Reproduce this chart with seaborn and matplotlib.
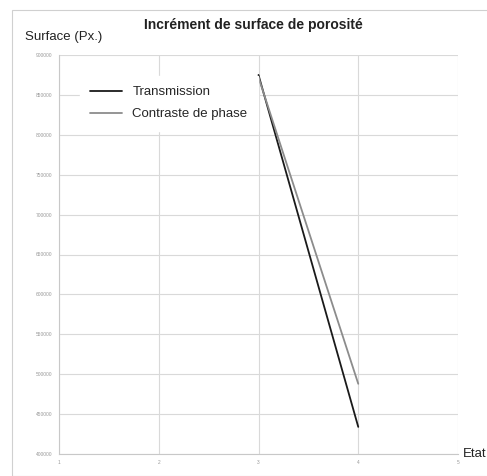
import pandas as pd
import matplotlib.pyplot as plt
import seaborn as sns
from matplotlib.patches import Rectangle

etat = [3, 4]
transmission = [875000, 434000]
contraste = [872000, 488000]
series_names = ["Transmission", "Contraste de phase"]
series_colors = ["#1a1a1a", "#8c8c8c"]

df = pd.DataFrame({"Etat": etat * 2,
                   "Surface": transmission + contraste,
                   "Serie": [series_names[0]] * 2 + [series_names[1]] * 2})

sns.set_style("white")
plt.rcParams['font.family'] = ['Liberation Sans', 'DejaVu Sans']

fig = plt.figure(figsize=(4.87, 4.76), dpi=100)
ax = fig.add_axes([59 / 487, 1 - 454 / 476, (458 - 59) / 487, (454 - 55) / 476])

sns.lineplot(data=df, x="Etat", y="Surface", hue="Serie", palette=series_colors,
             linewidth=1.3, ax=ax, legend=False)

ax.set_xlim(1, 5)
ax.set_ylim(400000, 900000)
ax.set_xticks([1, 2, 3, 4, 5])
ax.set_yticks(range(400000, 900001, 50000))
ax.set_yticklabels([str(v) for v in range(400000, 900001, 50000)])
ax.tick_params(axis='both', labelsize=3.5, colors='#999999', length=3, width=0.6, pad=2)
ax.tick_params(axis='x', length=0, pad=4)
ax.grid(True, color='#d9d9d9', linewidth=0.8)
for s in ['top', 'right']:
    ax.spines[s].set_visible(False)
for s in ['left', 'bottom']:
    ax.spines[s].set_color('#c8c8c8')
    ax.spines[s].set_linewidth(0.8)
ax.set_xlabel("")
ax.set_ylabel("")

# legend with white box over the grid
handles = [plt.Line2D([], [], color=c, linewidth=1.3) for c in series_colors]
leg = ax.legend(handles, series_names, loc='upper left', bbox_to_anchor=(0.035, 0.965),
                fontsize=9.5, frameon=True, fancybox=False, framealpha=1,
                edgecolor='white', handlelength=2.4, labelspacing=0.75, borderpad=0.8)

fig.text(253 / 487, 1 - 25 / 476, "Incrément de surface de porosité", ha='center', va='center',
         fontsize=10, fontweight='bold', color='#222222')
fig.text(25 / 487, 1 - 37 / 476, "Surface (Px.)", ha='left', va='center', fontsize=9.5, color='#222222')
fig.text(463 / 487, 1 - 454 / 476, "Etat", ha='left', va='center', fontsize=9.5, color='#222222')

fig.patches.append(Rectangle((12 / 487, 0), 1.2, 1 - 10 / 476, transform=fig.transFigure,
                             fill=False, edgecolor='#d0d0d0', linewidth=0.8))

plt.savefig("out.png", dpi=100)
